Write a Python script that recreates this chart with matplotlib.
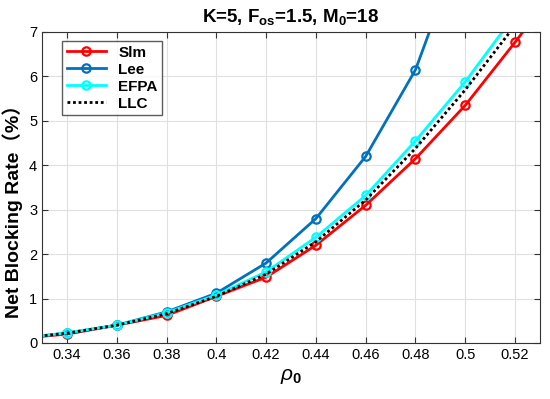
import matplotlib
matplotlib.use('Agg')
import matplotlib.pyplot as plt

# rho_0 sample points (0.32 and 0.54 lie outside the view, lines run off the edges)
rho = [0.32, 0.34, 0.36, 0.38, 0.40, 0.42, 0.44, 0.46, 0.48, 0.50, 0.52, 0.54]
slm = [0.10, 0.20, 0.40, 0.62, 1.05, 1.48, 2.20, 3.10, 4.15, 5.35, 6.77, 8.25]
lee = [0.10, 0.22, 0.40, 0.70, 1.12, 1.80, 2.80, 4.20, 6.15, 9.20, 13.0, 18.0]
efpa = [0.10, 0.23, 0.40, 0.68, 1.08, 1.60, 2.38, 3.32, 4.55, 5.88, 7.39, 9.2]
llc = [0.10, 0.22, 0.40, 0.66, 1.05, 1.55, 2.28, 3.22, 4.38, 5.70, 7.15, 8.9]

xticks = [0.34, 0.36, 0.38, 0.40, 0.42, 0.44, 0.46, 0.48, 0.50, 0.52]
xticklabels = ['0.34', '0.36', '0.38', '0.4', '0.42', '0.44', '0.46', '0.48', '0.5', '0.52']

plt.rcParams['font.family'] = ['Liberation Sans', 'Noto Sans CJK SC', 'DejaVu Sans']
plt.rcParams['mathtext.fontset'] = 'custom'
plt.rcParams['mathtext.rm'] = 'Liberation Sans'
plt.rcParams['mathtext.it'] = 'Liberation Sans:italic'
plt.rcParams['mathtext.bf'] = 'Liberation Sans:bold'

fig = plt.figure(figsize=(5.5, 3.99), dpi=100)
ax = fig.add_axes([0.0764, 0.1404, 0.9054, 0.7794])

ax.plot(rho, slm, color='#ff0000', lw=2, marker='o', ms=6, mfc='none', mew=1.6, label='Slm')
ax.plot(rho, lee, color='#0072bd', lw=2, marker='o', ms=6, mfc='none', mew=1.6, label='Lee')
ax.plot(rho, efpa, color='#00ffff', lw=2, marker='o', ms=6, mfc='none', mew=1.6, label='EFPA')
ax.plot(rho, llc, color='black', lw=2, ls=(0, (1, 1)), label='LLC')

ax.set_xlim(0.33, 0.53)
ax.set_ylim(0, 7)
ax.set_xticks(xticks)
ax.set_xticklabels(xticklabels)
ax.set_yticks(range(0, 8))
ax.grid(True, color='#e0e0e0', lw=0.8)
ax.set_axisbelow(True)
ax.tick_params(direction='in', top=True, right=True, labelsize=10.5, color='#333333', length=4)
for s in ax.spines.values():
    s.set_color('#333333')

ax.set_title(r'K=5, F$_{\mathbf{os}}$=1.5, M$_{\mathbf{0}}$=18', fontsize=13.5, fontweight='bold', pad=7)
ax.set_ylabel('Net Blocking Rate（%）', fontsize=14, fontweight='bold')
ax.yaxis.set_label_coords(-0.038, 0.44)
ax.set_xlabel(r'$\rho_\mathbf{0}$', fontsize=15)

leg = ax.legend(loc='upper left', prop={'weight': 'bold', 'size': 11},
                frameon=True, fancybox=False, edgecolor='#333333', handlelength=2.6,
                borderpad=0.3, labelspacing=0.2, borderaxespad=0,
                bbox_to_anchor=(0.040, 0.971))
leg.get_frame().set_linewidth(1.0)

fig.savefig('out.png', dpi=100)
